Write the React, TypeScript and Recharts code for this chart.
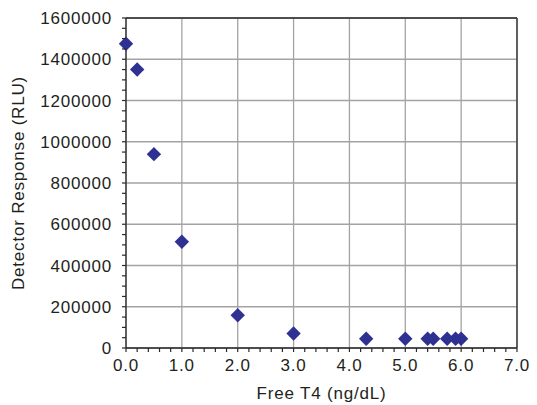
import React from "react";
import {
  ScatterChart,
  Scatter,
  XAxis,
  YAxis,
  CartesianGrid,
  ReferenceLine,
} from "recharts";

const freeT4 = [0, 0.2, 0.5, 1.0, 2.0, 3.0, 4.3, 5.0, 5.4, 5.5, 5.75, 5.9, 6.0];
const detectorResponse = [
  1475000, 1350000, 940000, 515000, 159000, 70000, 45000, 45000, 45000, 45000,
  45000, 45000, 45000,
];
const xMajorTicks = [0, 1, 2, 3, 4, 5, 6, 7];
const yMajorTicks = [0, 200000, 400000, 600000, 800000, 1000000, 1200000, 1400000, 1600000];
const xTickLabels = ["0.0", "1.0", "2.0", "3.0", "4.0", "5.0", "6.0", "7.0"];
const xTitle = "Free T4 (ng/dL)";
const yTitle = "Detector Response (RLU)";

const data = freeT4.map((x, i) => ({ x, y: detectorResponse[i] }));

const xAllTicks: number[] = [];
for (let i = 0; i <= 35; i++) xAllTicks.push(Math.round(i * 2) / 10);
const yAllTicks: number[] = [];
for (let i = 0; i <= 32; i++) yAllTicks.push(i * 50000);

const TEXT = "#231f20";
const AXIS = "#2a2a2a";
const GRID = "#a3a3a3";
const MARK = "#2e3192";
const FONT = "'Liberation Sans', Arial, sans-serif";

const XTick = (props: any) => {
  const { x, y, payload } = props;
  const v = payload.value;
  const idx = xMajorTicks.findIndex((m) => Math.abs(m - v) < 1e-6);
  return (
    <g>
      <line x1={x} x2={x} y1={y} y2={y + 4} stroke={AXIS} strokeWidth={1.2} />
      {idx >= 0 && (
        <text
          x={x}
          y={y + 23}
          textAnchor="middle"
          fill={TEXT}
          fontSize={17}
          letterSpacing={0.8}
          fontFamily={FONT}
        >
          {xTickLabels[idx]}
        </text>
      )}
    </g>
  );
};

const YTick = (props: any) => {
  const { x, y, payload } = props;
  const v = payload.value;
  const major = yMajorTicks.some((m) => Math.abs(m - v) < 1);
  return (
    <g>
      <line x1={x - 4} x2={x} y1={y} y2={y} stroke={AXIS} strokeWidth={1.2} />
      {major && (
        <text
          x={x - 14}
          y={y + 6}
          textAnchor="end"
          fill={TEXT}
          fontSize={17}
          letterSpacing={0.8}
          fontFamily={FONT}
        >
          {String(v)}
        </text>
      )}
    </g>
  );
};

const Diamond = (props: any) => {
  const { cx, cy } = props;
  const r = 7.2;
  return (
    <polygon
      points={`${cx},${cy - r} ${cx + r},${cy} ${cx},${cy + r} ${cx - r},${cy}`}
      fill={MARK}
    />
  );
};

export default function App() {
  return (
    <div style={{ position: "absolute", left: 0, top: 0 }}>
      <ScatterChart
        width={537}
        height={405}
        margin={{ top: 18, right: 20, bottom: 0, left: 0 }}
      >
        <CartesianGrid
          stroke={GRID}
          strokeWidth={1.3}
          verticalValues={xMajorTicks}
          horizontalValues={yMajorTicks}
        />
        <XAxis
          type="number"
          dataKey="x"
          domain={[0, 7]}
          ticks={xAllTicks}
          interval={0}
          height={57}
          tickSize={0}
          tickMargin={0}
          tickLine={false}
          axisLine={{ stroke: AXIS, strokeWidth: 1.3 }}
          tick={<XTick />}
          label={{
            content: () => (
              <text
                x={321.5}
                y={399}
                textAnchor="middle"
                fill={TEXT}
                fontSize={17}
                letterSpacing={0.8}
                fontFamily={FONT}
              >
                {xTitle}
              </text>
            ),
          }}
        />
        <YAxis
          type="number"
          dataKey="y"
          domain={[0, 1600000]}
          ticks={yAllTicks}
          interval={0}
          width={126}
          tickSize={0}
          tickMargin={0}
          tickLine={false}
          axisLine={{ stroke: AXIS, strokeWidth: 1.3 }}
          tick={<YTick />}
          label={{
            content: () => (
              <text
                x={24}
                y={183}
                transform="rotate(-90 24 183)"
                textAnchor="middle"
                fill={TEXT}
                fontSize={17}
                letterSpacing={0.8}
                fontFamily={FONT}
              >
                {yTitle}
              </text>
            ),
          }}
        />
        <ReferenceLine y={1600000} stroke={AXIS} strokeWidth={1.3} />
        <ReferenceLine x={7} stroke={AXIS} strokeWidth={1.3} />
        <Scatter data={data} shape={<Diamond />} isAnimationActive={false} />
      </ScatterChart>
    </div>
  );
}
